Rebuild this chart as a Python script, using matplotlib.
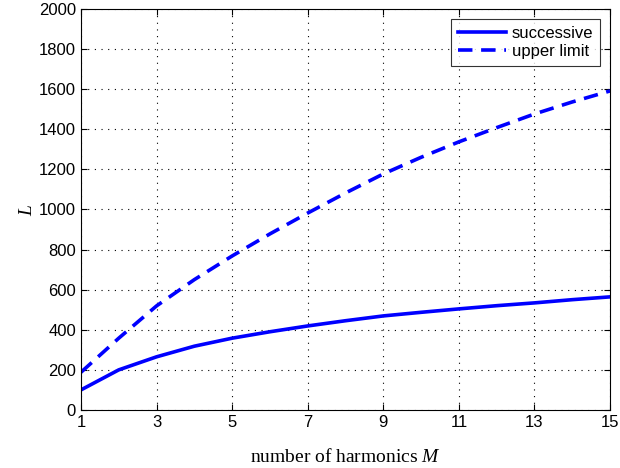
import numpy as np
import matplotlib.pyplot as plt

M = [1, 2, 3, 4, 5, 6, 7, 8, 9, 10, 11, 12, 13, 14, 15]
successive = [100, 200, 265, 318, 358, 390, 419, 445, 469, 487, 504, 520, 534, 550, 564]
upper_limit = [188, 358, 519, 650, 768, 878, 982, 1082, 1177, 1260, 1337, 1408, 1476, 1536, 1591]

plt.rcParams['font.family'] = 'Liberation Sans'
plt.rcParams['mathtext.fontset'] = 'custom'
plt.rcParams['mathtext.it'] = 'Liberation Serif:italic'
plt.rcParams['mathtext.rm'] = 'Liberation Serif'

fig = plt.figure(figsize=(6.2, 4.68), dpi=100)
ax = fig.add_axes([0.1306, 0.124, 0.8534, 0.857])

ax.plot(M, successive, color='blue', lw=2.6, label='successive')
ax.plot(M, upper_limit, color='blue', lw=2.6, ls=(0, (4, 2.4)), label='upper limit')

ax.set_xlim(1, 15)
ax.set_ylim(0, 2000)
ax.set_xticks([1, 3, 5, 7, 9, 11, 13, 15])
ax.set_yticks(np.arange(0, 2001, 200))
ax.tick_params(direction='in', top=True, right=True, labelsize=12, length=4)
ax.grid(True, color='black', ls=(0, (1, 5)), lw=0.8)

ax.set_xlabel('number of harmonics $M$', family='Liberation Serif', fontsize=14, labelpad=13)
ax.set_ylabel('$L$', family='Liberation Serif', fontsize=14, labelpad=2)

leg = ax.legend(loc='upper right', fontsize=12, fancybox=False, edgecolor='black',
                handlelength=2.9, handletextpad=0.35, borderpad=0.4, labelspacing=0.2,
                borderaxespad=0.6)
leg.get_frame().set_linewidth(0.8)

fig.savefig('out.png', dpi=100)
